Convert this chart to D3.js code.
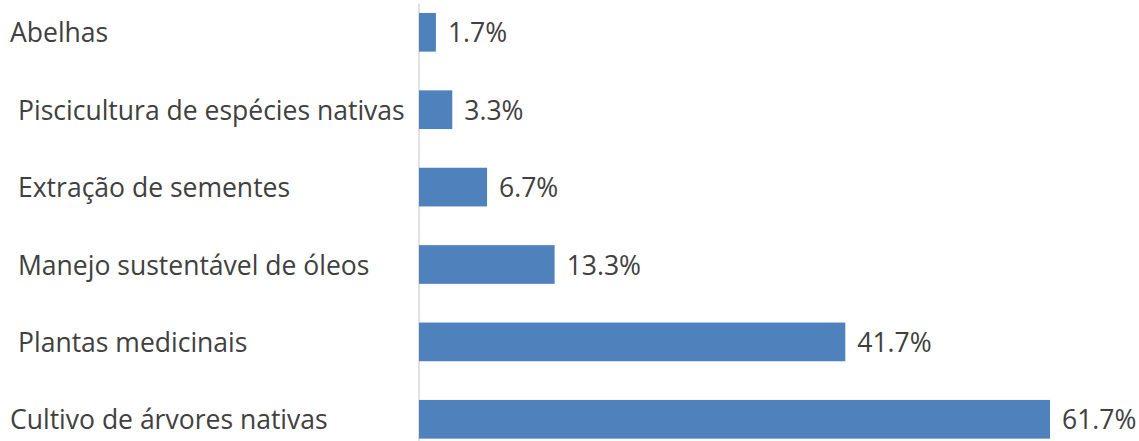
<!DOCTYPE html>
<html><head><meta charset="utf-8">
<script src="https://cdn.jsdelivr.net/npm/d3@7"></script>
<style>html,body{margin:0;padding:0;background:#fff;}svg{display:block;}</style>
</head><body>
<svg id="c" width="1139" height="441"></svg>
<script>
const categories = ["Abelhas","Piscicultura de espécies nativas","Extração de sementes","Manejo sustentável de óleos","Plantas medicinais","Cultivo de árvores nativas"];
const values = [1.7, 3.3, 6.7, 13.3, 41.7, 61.7];
const valueLabels = ["1.7%","3.3%","6.7%","13.3%","41.7%","61.7%"];

const svg = d3.select("#c");
const x = d3.scaleLinear().domain([0, 61.7]).range([418.5, 1050]);
const y = d3.scaleBand().domain(categories).range([-6.4, 458]).paddingInner(0.5).paddingOuter(0.25);

const font = "'Open Sans', sans-serif";
const fontSize = 20;
const textColor = "#404040";

// vertical axis line
svg.append("g").attr("transform", `translate(${x(0)},0)`)
  .call(d3.axisLeft(d3.scaleLinear().range([3, 441])).ticks(0).tickSize(0).tickSizeOuter(0))
  .call(g => g.select(".domain").attr("stroke", "#d9d9d9").attr("stroke-width", 1.5))
  .call(g => g.selectAll("text").remove());

svg.append("g").selectAll("rect").data(values).join("rect")
  .attr("x", x(0) + 0.5)
  .attr("y", (d, i) => y(categories[i]))
  .attr("width", d => x(d) - x(0) - 0.5)
  .attr("height", y.bandwidth())
  .attr("fill", "#4f81bd");

const labelX = [10, 18, 18, 18, 18, 10];
const cats = svg.append("g").selectAll("text").data(categories).join("text")
  .attr("x", (d, i) => labelX[i])
  .attr("y", d => y(d) + y.bandwidth() / 2 + 10)
  .attr("font-family", font)
  .attr("font-size", fontSize)
  .attr("fill", textColor)
  .text(d => d);

// fit font size so the longest label spans ~387px like the reference
const w = cats.nodes()[1].getComputedTextLength();
const fs = fontSize * 387 / w;
cats.attr("font-size", fs);

svg.append("g").selectAll("text").data(values).join("text")
  .attr("x", d => x(d) + 12)
  .attr("y", (d, i) => y(categories[i]) + y.bandwidth() / 2 + 10)
  .attr("font-family", font)
  .attr("font-size", fs)
  .attr("fill", textColor)
  .text((d, i) => valueLabels[i]);
</script>
</body></html>
